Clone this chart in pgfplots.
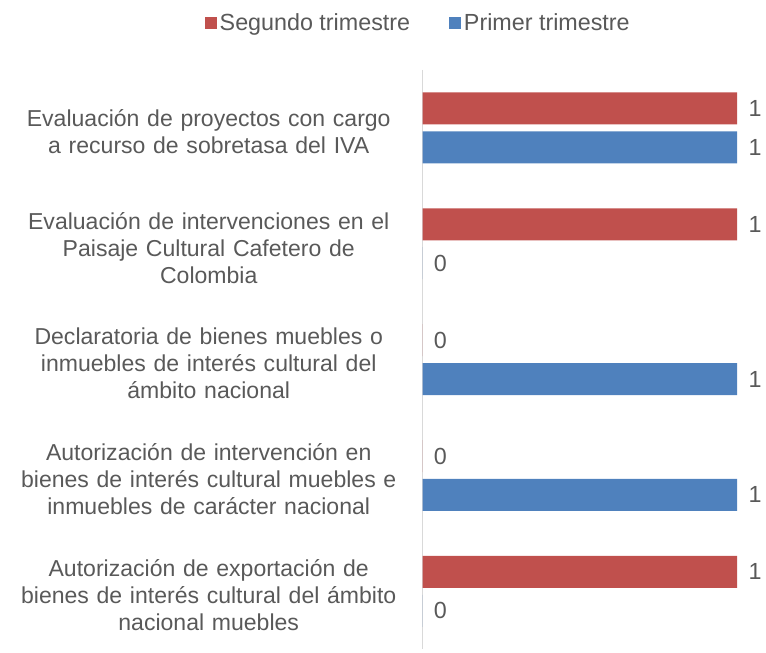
\documentclass[border=0pt]{standalone}
\usepackage{fontspec}
\setmainfont{Liberation Sans}
\usepackage{pgfplots}
\pgfplotsset{compat=1.18}
\definecolor{rojo}{HTML}{C0504D}
\definecolor{azul}{HTML}{4F81BD}
\definecolor{txt}{HTML}{595959}
\definecolor{axl}{HTML}{D9D9D9}
\begin{document}
\begin{tikzpicture}
\begin{axis}[name=ax, xbar, scale only axis, width=236.25pt, height=435pt,
  xmin=0, xmax=1, ymin=-0.5, ymax=4.5, y dir=reverse,
  axis x line=none, axis y line=left, axis line style={axl, -, line width=0.8pt},
  ytick={0,1,2,3,4}, major tick length=0pt,
  yticklabels={{Evaluación de proyectos con cargo\\a recurso de sobretasa del IVA},
    {Evaluación de intervenciones en el\\Paisaje Cultural Cafetero de\\Colombia},
    {Declaratoria de bienes muebles o\\inmuebles de interés cultural del\\ámbito nacional},
    {Autorización de intervención en\\bienes de interés cultural muebles e\\inmuebles de carácter nacional},
    {Autorización de exportación de\\bienes de interés cultural del ámbito\\nacional muebles}},
  yticklabel style={text width=290pt, align=center, font=\fontsize{17.3}{20.3}\selectfont, text=txt, xshift=-12pt, yshift=-3pt},
  /pgf/number format/assume math mode=true,
  bar width=24pt,
  nodes near coords, point meta=x,
  nodes near coords style={anchor=west, font=\fontsize{17.5}{20}\selectfont, text=txt, xshift=5pt},
  legend style={draw=none, legend columns=2, at={(-0.013,1.107)}, anchor=north,
    font=\fontsize{17.5}{20}\selectfont, text=txt,
    /tikz/every even column/.append style={column sep=27pt}},
  legend image code/.code={\fill[#1,draw=none] (0pt,-4.7pt) rectangle (9.4pt,4.7pt);},
]
\addplot[fill=rojo, draw=none, bar shift=14.6pt] coordinates {(1,0) (1,1) (0,2) (0,3) (1,4)};
\addlegendentry{Segundo trimestre}
\addplot[fill=azul, draw=none, bar shift=-14.6pt] coordinates {(1,0) (0,1) (1,2) (1,3) (0,4)};
\addlegendentry{Primer trimestre}
\end{axis}
\path ([shift={(-317.25pt,-2.25pt)}]ax.south west) rectangle ++(574.5pt,489.75pt);
\end{tikzpicture}
\end{document}
